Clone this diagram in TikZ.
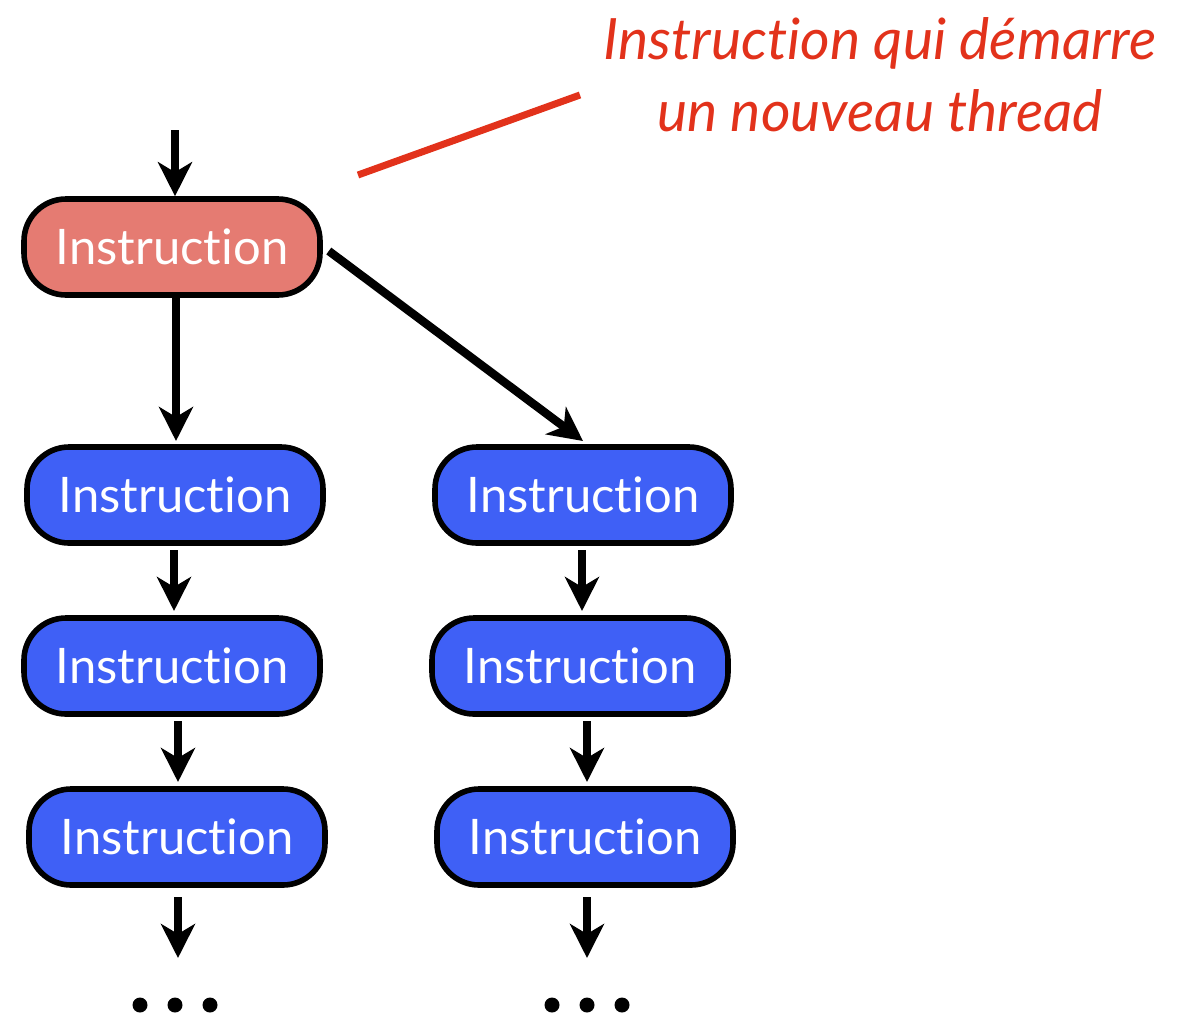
\documentclass[tikz,border=0pt]{standalone}
\usepackage{fontspec}
\setmainfont[Ligatures={NoCommon}]{Lato}
\usetikzlibrary{arrows.meta}
\definecolor{redfill}{HTML}{E57B72}
\definecolor{bluefill}{HTML}{3F60F6}
\definecolor{notered}{HTML}{E2321B}
\tikzset{
  instr/.style={draw=black, line width=2.8pt, rounded corners=21pt,
    minimum width=148pt, minimum height=48pt, inner sep=0pt,
    text=white, font=\fontsize{24.5}{30}\selectfont},
  redbox/.style={instr, fill=redfill},
  bluebox/.style={instr, fill=bluefill},
  arr/.style={line width=4.2pt, -{Stealth[length=17pt, width=17pt, inset=5pt]}},
  dotc/.style={circle, fill=black, inner sep=0pt, minimum size=7.5pt},
  note/.style={text=notered, font=\fontsize{28.5}{36}\selectfont\itshape, align=center}
}
\begin{document}
\begin{tikzpicture}[x=0.5pt, y=-0.5pt]
\useasboundingbox (0,0) rectangle (1192,1012);
\node[redbox] (r) at (172,247) {Instruction};
\node[bluebox] (l1) at (175,495) {Instruction};
\node[bluebox] (l2) at (172,666) {Instruction};
\node[bluebox] (l3) at (177,837) {Instruction};
\node[bluebox] (g1) at (583,495) {Instruction};
\node[bluebox] (g2) at (580,666) {Instruction};
\node[bluebox] (g3) at (585,837) {Instruction};

\coordinate (in) at (175,130);
\coordinate (lend) at (178,958);
\coordinate (gend) at (587,958);
\draw[arr] (in) -- (r.north -| in);
\draw[arr] (r.south -| 176,0) -- (176,441);
\draw[arr] ([xshift=3pt,yshift=-2pt]r.east) -- (583,441);
\draw[arr] (174,550) -- (174,611);
\draw[arr] (178,721) -- (178,782);
\draw[arr] (178,897) -- (lend);
\draw[arr] (582,550) -- (582,611);
\draw[arr] (587,721) -- (587,782);
\draw[arr] (587,897) -- (gend);

\node[dotc] (ld1) at (140,1005) {};
\node[dotc] (ld2) at (175,1005) {};
\node[dotc] (ld3) at (210,1005) {};
\node[dotc] (gd1) at (552,1005) {};
\node[dotc] (gd2) at (587,1005) {};
\node[dotc] (gd3) at (622,1005) {};

\node[note] (t) at (880,75) {Instruction qui démarre\\un nouveau thread};
\coordinate (pa) at (358,175);
\coordinate (pb) at (580,95);
\draw[notered, line width=3.5pt] (pa) -- (pb);
\end{tikzpicture}
\end{document}
